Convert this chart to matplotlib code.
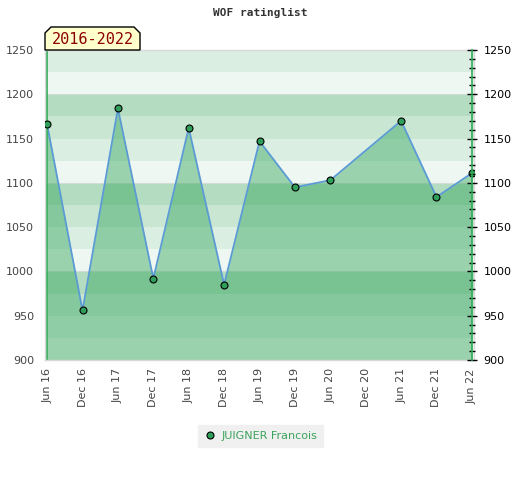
import numpy as np
import matplotlib
matplotlib.use("Agg")
import matplotlib.pyplot as plt
from matplotlib.patches import Polygon
from matplotlib.lines import Line2D

# data
periods = ["Jun 16", "Dec 16", "Jun 17", "Dec 17", "Jun 18", "Dec 18", "Jun 19",
           "Dec 19", "Jun 20", "Dec 20", "Jun 21", "Dec 21", "Jun 22"]
ratings = [1166, 956, 1184, 992, 1162, 985, 1147, 1095, 1103, np.nan, 1170, 1084, 1111]
player = "JUIGNER Francois"
title = "WOF ratinglist"
span_label = "2016-2022"

y_min, y_max = 900, 1250
band_colors = ["#eff7f2", "#dbeee2", "#c8e6d2", "#b3dcc1"]

W, H = 520, 480
fig = plt.figure(figsize=(W / 100, H / 100), dpi=100)
ax = fig.add_axes([45 / W, 1 - 360 / H, (474 - 45) / W, (360 - 50) / H])

# striped background, 25 points per band
for lo in range(y_min, y_max, 25):
    k = ((lo - y_min) // 25) % 4
    ax.axhspan(lo, lo + 25, color=band_colors[k], lw=0, zorder=0)
for g in (1000, 1100, 1200):
    ax.axhline(g, color="#d3dcd6", lw=0.8, zorder=0.5)

x = np.arange(len(periods))
r = np.array(ratings, dtype=float)
ok = ~np.isnan(r)
ax.fill_between(x[ok], r[ok], y_min, color="#34a55d", alpha=0.45, lw=0, zorder=1)
ax.plot(x[ok], r[ok], color="#5b9bd5", lw=1.3, zorder=2)
ax.plot(x[ok], r[ok], ls="none", marker="o", ms=5, mfc="#2f9e5a", mec="black",
        mew=0.8, zorder=3)

ax.axvline(0, color="#2eaa55", lw=1.2, zorder=2.5)

ax.set_xlim(-0.06, len(periods) - 1 + 0.06)
ax.set_ylim(y_min, y_max)
ax.set_xticks(x)
ax.set_xticklabels(periods, rotation=90, fontsize=8, color="#444444")
ax.set_yticks(range(y_min, y_max + 1, 50))
ax.tick_params(axis="y", labelsize=8, labelcolor="#444444", length=0, pad=8)
ax.tick_params(axis="x", length=0, pad=6)
for s in ax.spines.values():
    s.set_color("#d8d8d8")
    s.set_linewidth(1)

# right axis on the last data point
ax2 = ax.twinx()
ax2.set_ylim(y_min, y_max)
ax2.spines["right"].set_position(("data", len(periods) - 1))
ax2.spines["right"].set_color("#2eaa55")
ax2.spines["right"].set_linewidth(1.2)
for side in ("left", "top", "bottom"):
    ax2.spines[side].set_visible(False)
ax2.set_yticks(range(y_min, y_max + 1, 50))
ax2.set_yticks(range(y_min, y_max + 1, 10), minor=True)
ax2.tick_params(axis="y", which="major", direction="inout", length=7, width=1,
                labelsize=8, colors="black", pad=5)
ax2.tick_params(axis="y", which="minor", direction="inout", length=5, width=1,
                colors="black")

fig.text(0.5, 1 - 13 / H, title, ha="center", va="center", family="DejaVu Sans Mono",
         weight="bold", fontsize=8, color="#333333")

# period label tab
pts = [(45, 50), (45, 33), (51, 27), (134, 27), (140, 33), (140, 50)]
tab = Polygon([(px / W, 1 - py / H) for px, py in pts], closed=True,
              transform=fig.transFigure, facecolor="#ffffcc", edgecolor="black", lw=1)
fig.patches.append(tab)
fig.text(92.5 / W, 1 - 40 / H, span_label, ha="center", va="center",
         family="DejaVu Sans Mono", fontsize=11, color="#8b0000")

handle = Line2D([], [], ls="none", marker="o", ms=5, mfc="#2f9e5a", mec="black", mew=0.8)
leg = fig.legend([handle], [player], loc="center", bbox_to_anchor=(260.5 / W, 1 - 436 / H),
                 frameon=True, fancybox=False, facecolor="#f0f0f0", edgecolor="#f0f0f0",
                 fontsize=8, handletextpad=0.4, handlelength=1.2, borderpad=0.5)
leg.get_frame().set_alpha(1)
for t in leg.get_texts():
    t.set_color("#3aa35c")

fig.savefig("out.png", dpi=100)
